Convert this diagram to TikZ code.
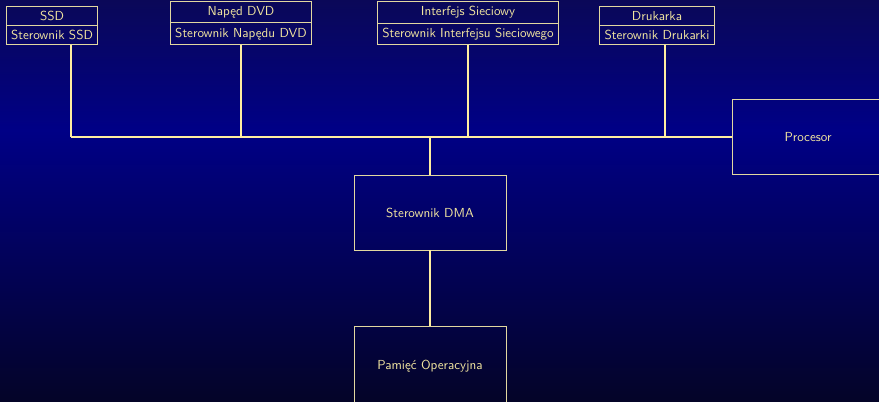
\documentclass[tikz,border=0pt]{standalone}
\usepackage{fontspec}
\usetikzlibrary{shapes.multipart}
\definecolor{bgtop}{RGB}{10,8,88}
\definecolor{bgmid}{RGB}{0,0,134}
\definecolor{bgbot}{RGB}{4,4,40}
\definecolor{boxtext}{RGB}{242,230,160}
\definecolor{boxline}{RGB}{226,216,160}
\definecolor{wire}{RGB}{255,238,160}
\begin{document}
\begin{tikzpicture}[x=0.75pt,y=-0.75pt,
  devbox/.style={rectangle split, rectangle split parts=2, draw=boxline,
    line width=0.6pt, text=boxtext, anchor=south,
    font=\sffamily\fontsize{9.8}{12}\selectfont,
    inner xsep=3.6pt, inner ysep=3.3pt},
  bigbox/.style={draw=boxline, line width=0.6pt, text=boxtext,
    font=\sffamily\fontsize{9.8}{12}\selectfont,
    minimum width=114pt, minimum height=56.25pt, inner sep=0pt},
  busline/.style={draw=wire, line width=1.4pt}]
\useasboundingbox (0,0) rectangle (879,401);
% background
\shade[top color=bgtop, bottom color=bgmid] (0,0) rectangle (879,130);
\shade[top color=bgmid, bottom color=bgbot] (0,130) rectangle (879,401);
% devices
\node[devbox] (ssd) at (52,45) {SSD \nodepart{two} Sterownik SSD};
\node[devbox] (dvd) at (241,45) {Napęd DVD \nodepart{two} Sterownik Napędu DVD};
\node[devbox] (net) at (468,45) {Interfejs Sieciowy \nodepart{two} Sterownik Interfejsu Sieciowego};
\node[devbox] (prn) at (657,45) {Drukarka \nodepart{two} Sterownik Drukarki};
\node[bigbox] (cpu) at (808,137) {Procesor};
\node[bigbox] (dma) at (430,212.5) {Sterownik DMA};
\node[bigbox, minimum height=60pt] (ram) at (430,366) {Pamięć Operacyjna};
% bus
\coordinate (busssd) at (71,137);
\coordinate (busdvd) at (241,137);
\coordinate (busnet) at (468,137);
\coordinate (busprn) at (665,137);
\coordinate (busdma) at (430,137);
\draw[busline] (busssd) -- (cpu.west);
\draw[busline] (ssd.south -| busssd) -- (busssd);
\draw[busline] (dvd.south -| busdvd) -- (busdvd);
\draw[busline] (net.south -| busnet) -- (busnet);
\draw[busline] (prn.south -| busprn) -- (busprn);
\draw[busline] (busdma) -- (dma.north);
\draw[busline] (dma.south) -- (ram.north);
\end{tikzpicture}
\end{document}
